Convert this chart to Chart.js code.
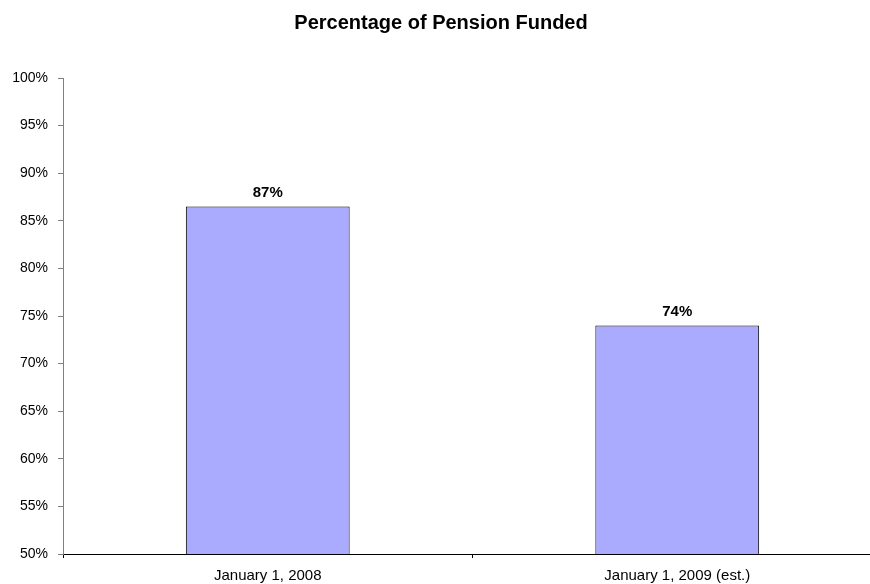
<!DOCTYPE html>
<html>
<head>
<meta charset="utf-8">
<script src="https://cdn.jsdelivr.net/npm/chart.js@4"></script>
<style>
  body { margin: 0; background: #fff; overflow: hidden; }
  #wrap { width: 882px; height: 584px; }
</style>
</head>
<body>
<div id="wrap"><canvas id="chart" width="882" height="584"></canvas></div>
<script>
// data
const categories = ['January 1, 2008', 'January 1, 2009 (est.)'];
const fundedPct = [86.5, 74];
const yTicks = [50, 55, 60, 65, 70, 75, 80, 85, 90, 95, 100];

// Draw "87%" style labels above each bar
const barLabels = {
    id: 'barLabels',
    afterDatasetsDraw(chart) {
        const ctx = chart.ctx;
        const meta = chart.getDatasetMeta(0);
        ctx.save();
        ctx.font = 'bold 15px "Liberation Sans", Arial, sans-serif';
        ctx.fillStyle = '#000';
        ctx.textAlign = 'center';
        ctx.textBaseline = 'middle';
        meta.data.forEach(function(bar, i) {
            ctx.fillText(Math.round(fundedPct[i]) + '%', bar.x, bar.y - 14);
        });
        ctx.restore();
    }
};

new Chart(document.getElementById('chart'), {
    type: 'bar',
    data: {
        labels: categories,
        datasets: [{
            label: 'Funded',
            data: fundedPct,
            backgroundColor: '#AAAAFF',
            borderColor: '#000000',
            borderWidth: 1,
            borderSkipped: false,
            barPercentage: 0.4,
            categoryPercentage: 1.0
        }]
    },
    options: {
        responsive: false,
        animation: false,
        layout: { padding: 0 },
        plugins: {
            legend: { display: false },
            tooltip: { enabled: false },
            title: {
                display: true,
                text: 'Percentage of Pension Funded',
                color: '#000',
                font: { family: '"Liberation Sans", Arial, sans-serif', size: 20, weight: 'bold' },
                padding: { top: 11, bottom: 43 }
            }
        },
        scales: {
            x: {
                grid: {
                    offset: true,
                    drawOnChartArea: false,
                    drawTicks: true,
                    tickLength: 4,
                    color: '#000'
                },
                border: { color: '#000', width: 1 },
                ticks: {
                    color: '#000',
                    padding: 9,
                    maxRotation: 0,
                    font: { family: '"Liberation Sans", Arial, sans-serif', size: 15 }
                },
                afterFit(scale) { scale.height = 30; }
            },
            y: {
                min: 50,
                max: 100,
                afterBuildTicks(scale) {
                    scale.ticks = yTicks.map(v => ({ value: v }));
                },
                grid: {
                    drawOnChartArea: false,
                    drawTicks: true,
                    tickLength: 5,
                    color: '#808080'
                },
                border: { color: '#808080', width: 1 },
                ticks: {
                    color: '#000',
                    padding: 10,
                    font: { family: '"Liberation Sans", Arial, sans-serif', size: 14 },
                    callback: v => v + '%'
                },
                afterFit(scale) { scale.width = 63; }
            }
        }
    },
    plugins: [barLabels]
});
</script>
</body>
</html>
